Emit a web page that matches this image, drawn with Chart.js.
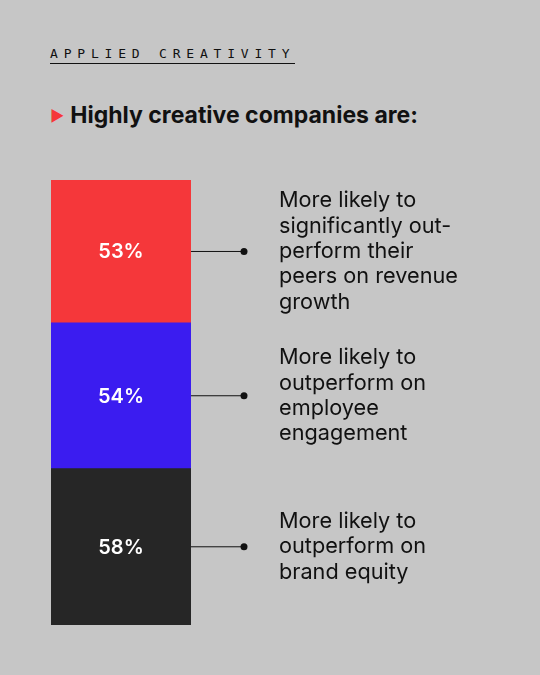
<!DOCTYPE html>
<html>
<head>
<meta charset="utf-8">
<script src="https://cdn.jsdelivr.net/npm/chart.js@4"></script>
<style>
  html, body { margin: 0; padding: 0; background: #c6c6c6; }
  #wrap { position: relative; width: 540px; height: 675px; font-family: Inter, "Noto Sans", sans-serif; }
  #kicker { position: absolute; left: 50px; top: 46px; font-family: "DejaVu Sans Mono", monospace; font-size: 13px;
            letter-spacing: 5.8px; color: #111; border-bottom: 1.5px solid #111; padding-bottom: 1px; line-height: 16px; }
  #title { position: absolute; left: 50px; top: 101px; font-size: 23px; font-weight: 700; color: #111; }
  #title span { color: #f5373a; font-size: 15px; margin-right: 6px; vertical-align: 2px; }
  canvas { position: absolute; left: 0; top: 0; }
</style>
</head>
<body>
<div id="wrap">
  <div id="kicker">APPLIED CREATIVITY</div>
  <div id="title"><span>&#9654;</span>Highly creative companies are:</div>
  <canvas id="chart" width="540" height="675"></canvas>
</div>
<script>
const segments = ['Revenue growth', 'Employee engagement', 'Brand equity'];
const values = [53, 54, 58];
const colors = ['#f5373a', '#3b1cf0', '#262626'];
const descriptions = [
  ['More likely to', 'significantly out-', 'perform their', 'peers on revenue', 'growth'],
  ['More likely to', 'outperform on', 'employee', 'engagement'],
  ['More likely to', 'outperform on', 'brand equity']
];

const total = values.reduce((a, b) => a + b, 0);

// datasets are reversed so the first segment sits on top of the stack
const labelPlugin = {
  id: 'labels',
  afterDatasetsDraw(chart) {
    const ctx = chart.ctx;
    ctx.save();
    const n = chart.data.datasets.length;
    chart.data.datasets.forEach((ds, j) => {
      const i = n - 1 - j;
      const bar = chart.getDatasetMeta(j).data[0];
      const yMid = (bar.y + bar.base) / 2;
      const right = bar.x + bar.width / 2;
      ctx.fillStyle = '#ffffff';
      ctx.font = '600 20px Inter, "Noto Sans", sans-serif';
      ctx.textAlign = 'center';
      ctx.textBaseline = 'middle';
      ctx.fillText(values[i] + '%', bar.x, yMid + 1);
      ctx.strokeStyle = '#111';
      ctx.lineWidth = 1;
      ctx.beginPath();
      ctx.moveTo(right, yMid);
      ctx.lineTo(244, yMid);
      ctx.stroke();
      ctx.fillStyle = '#111';
      ctx.beginPath();
      ctx.arc(244, yMid, 3.5, 0, Math.PI * 2);
      ctx.fill();
      const lines = descriptions[i];
      const lh = 25.4;
      ctx.font = '21.7px Inter, "Noto Sans", sans-serif';
      ctx.textAlign = 'left';
      const y0 = yMid - (lines.length - 1) * lh / 2;
      lines.forEach((t, k) => ctx.fillText(t, 279, y0 + k * lh));
    });
    ctx.restore();
  }
};

new Chart(document.getElementById('chart'), {
  type: 'bar',
  data: {
    labels: [''],
    datasets: segments.map((s, i) => ({
      label: s,
      data: [values[i]],
      backgroundColor: colors[i],
      borderWidth: 0,
      barPercentage: 1,
      categoryPercentage: 1
    })).reverse()
  },
  options: {
    responsive: false,
    animation: false,
    layout: { padding: { left: 51, right: 349, top: 180, bottom: 50 } },
    plugins: { legend: { display: false }, tooltip: { enabled: false } },
    scales: {
      x: { stacked: true, display: false },
      y: { stacked: true, display: false, min: 0, max: total }
    }
  },
  plugins: [labelPlugin]
});
</script>
</body>
</html>
